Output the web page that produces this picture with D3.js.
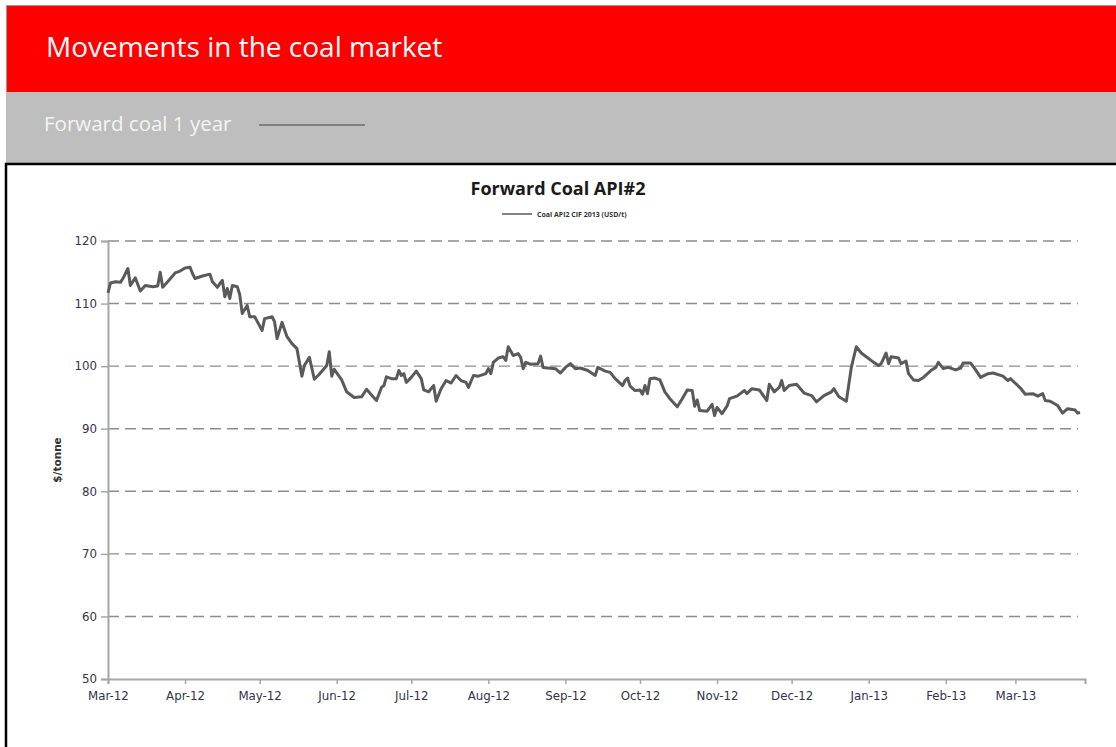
<!DOCTYPE html>
<html>
<head>
<meta charset="utf-8">
<script src="https://cdn.jsdelivr.net/npm/d3@7"></script>
<style>
  body { margin: 0; background: #fff; }
  svg { display: block; }
</style>
</head>
<body>
<div id="chart-container"></div>
<script>
// forward coal API#2
var dates = [
  "2012-03-01","2012-03-02","2012-03-04","2012-03-06","2012-03-07","2012-03-09","2012-03-10","2012-03-11",
  "2012-03-12","2012-03-14","2012-03-16","2012-03-19","2012-03-21","2012-03-22","2012-03-23","2012-03-25",
  "2012-03-28","2012-03-30","2012-04-01","2012-04-03","2012-04-04","2012-04-05","2012-04-08","2012-04-11",
  "2012-04-12","2012-04-14","2012-04-15","2012-04-16","2012-04-17","2012-04-18","2012-04-19","2012-04-20",
  "2012-04-22","2012-04-23","2012-04-24","2012-04-26","2012-04-27","2012-04-29","2012-05-02","2012-05-03",
  "2012-05-06","2012-05-07","2012-05-08","2012-05-10","2012-05-12","2012-05-14","2012-05-16","2012-05-18",
  "2012-05-19","2012-05-21","2012-05-23","2012-05-25","2012-05-28","2012-05-29","2012-05-30","2012-05-31",
  "2012-06-03","2012-06-05","2012-06-08","2012-06-11","2012-06-13","2012-06-15","2012-06-17","2012-06-19",
  "2012-06-20","2012-06-21","2012-06-23","2012-06-25","2012-06-26","2012-06-27","2012-06-28","2012-06-29",
  "2012-07-01","2012-07-03","2012-07-05","2012-07-06","2012-07-08","2012-07-10","2012-07-11","2012-07-13",
  "2012-07-15","2012-07-17","2012-07-19","2012-07-21","2012-07-23","2012-07-24","2012-07-26","2012-07-28",
  "2012-07-31","2012-08-01","2012-08-02","2012-08-03","2012-08-05","2012-08-07","2012-08-08","2012-08-09",
  "2012-08-11","2012-08-13","2012-08-14","2012-08-15","2012-08-16","2012-08-18","2012-08-21","2012-08-22",
  "2012-08-23","2012-08-25","2012-08-28","2012-08-30","2012-09-01","2012-09-03","2012-09-05","2012-09-07",
  "2012-09-10","2012-09-13","2012-09-14","2012-09-17","2012-09-19","2012-09-21","2012-09-24","2012-09-25",
  "2012-09-26","2012-09-27","2012-09-29","2012-10-01","2012-10-02","2012-10-03","2012-10-04","2012-10-05",
  "2012-10-07","2012-10-09","2012-10-11","2012-10-13","2012-10-16","2012-10-18","2012-10-20","2012-10-22",
  "2012-10-23","2012-10-24","2012-10-25","2012-10-28","2012-10-30","2012-10-31","2012-11-01","2012-11-03",
  "2012-11-05","2012-11-06","2012-11-09","2012-11-12","2012-11-13","2012-11-15","2012-11-18","2012-11-21",
  "2012-11-22","2012-11-24","2012-11-26","2012-11-27","2012-11-28","2012-11-30","2012-12-03","2012-12-06",
  "2012-12-09","2012-12-11","2012-12-14","2012-12-17","2012-12-18","2012-12-20","2012-12-23","2012-12-25",
  "2012-12-27","2012-12-29","2012-12-31","2013-01-03","2013-01-05","2013-01-06","2013-01-08","2013-01-09",
  "2013-01-10","2013-01-13","2013-01-14","2013-01-16","2013-01-17","2013-01-19","2013-01-21","2013-01-23",
  "2013-01-26","2013-01-28","2013-01-29","2013-01-31","2013-02-02","2013-02-05","2013-02-07","2013-02-08",
  "2013-02-11","2013-02-13","2013-02-15","2013-02-18","2013-02-20","2013-02-24","2013-02-26","2013-02-27",
  "2013-03-03","2013-03-05","2013-03-08","2013-03-10","2013-03-12","2013-03-13","2013-03-15","2013-03-18",
  "2013-03-20","2013-03-22","2013-03-25","2013-03-26","2013-03-27"
];

var prices = [
  111.7, 113.3, 113.5, 113.4, 114.0, 115.6, 112.9, 113.5,
  114.1, 112.0, 112.9, 112.7, 112.8, 115.0, 112.6, 113.5,
  114.9, 115.2, 115.7, 115.8, 114.8, 114.0, 114.4, 114.7,
  113.5, 112.6, 113.2, 113.7, 111.1, 112.4, 110.8, 112.9,
  112.7, 111.4, 108.4, 109.7, 107.9, 107.9, 105.7, 107.6,
  107.9, 107.1, 104.4, 107.0, 104.7, 103.6, 102.8, 98.4,
  100.1, 101.4, 97.9, 98.7, 100.1, 102.3, 98.4, 99.5,
  97.8, 95.9, 95.0, 95.1, 96.3, 95.4, 94.5, 96.6,
  96.9, 98.3, 98.0, 98.0, 99.3, 98.5, 98.8, 97.4,
  98.2, 99.2, 98.0, 96.2, 95.9, 96.9, 94.4, 96.4,
  97.7, 97.3, 98.5, 97.7, 97.4, 96.6, 98.5, 98.4,
  98.8, 99.6, 98.8, 100.6, 101.3, 101.5, 100.9, 103.1,
  101.7, 102.0, 101.4, 99.6, 100.6, 100.3, 100.4, 101.6,
  99.8, 99.7, 99.6, 98.9, 99.8, 100.4, 99.6, 99.7,
  99.3, 98.5, 99.8, 99.2, 99.0, 98.0, 96.9, 97.7,
  98.1, 96.8, 96.1, 96.2, 95.5, 96.9, 95.6, 98.0,
  98.1, 97.8, 95.9, 94.8, 93.5, 94.8, 96.2, 96.1,
  93.6, 94.6, 92.9, 92.8, 93.9, 92.1, 93.4, 92.4,
  93.6, 94.8, 95.2, 96.1, 95.6, 96.4, 96.2, 94.5,
  97.1, 95.9, 96.6, 97.7, 96.1, 96.9, 97.1, 95.7,
  95.3, 94.3, 95.3, 95.9, 96.4, 95.1, 94.4, 99.8,
  103.1, 102.1, 101.5, 100.6, 100.1, 100.4, 102.1, 100.4,
  101.5, 101.3, 100.4, 100.8, 98.8, 97.8, 97.7, 98.2,
  99.3, 99.8, 100.6, 99.6, 99.8, 99.4, 99.7, 100.5,
  100.5, 99.4, 98.2, 98.8, 98.9, 98.4, 97.7, 98.0,
  96.5, 95.5, 95.6, 95.2, 95.6, 94.5, 94.4, 93.7,
  92.5, 93.2, 93.0, 92.5, 92.6
];

var monthTicks = [
  "2012-03-01","2012-04-01","2012-05-01","2012-06-01","2012-07-01","2012-08-01",
  "2012-09-01","2012-10-01","2012-11-01","2012-12-01","2013-01-01","2013-02-01","2013-03-01"
];
var yTicks = [50, 60, 70, 80, 90, 100, 110, 120];

var svgWidth = 1116;
var svgHeight = 747;
var plot = { left: 108, right: 1085, top: 241, bottom: 679 };

var parseDate = d3.timeParse("%Y-%m-%d");
var data = dates.map(function (d, i) {
    return { date: parseDate(d), value: prices[i] };
});

var svg = d3.select("#chart-container").append("svg")
    .attr("width", svgWidth)
    .attr("height", svgHeight);

// header bars
svg.append("rect")
    .attr("x", 6.5).attr("y", 5.5)
    .attr("width", 1112).attr("height", 87)
    .style("fill", "#ff0000")
    .style("stroke", "#9a9a9a")
    .style("stroke-width", 1);

svg.append("text")
    .attr("x", 46).attr("y", 57)
    .style("font-family", "'Open Sans', sans-serif")
    .style("font-size", "28px")
    .style("fill", "#ffffff")
    .text("Movements in the coal market");

svg.append("rect")
    .attr("x", 6).attr("y", 92)
    .attr("width", 1110).attr("height", 71)
    .style("fill", "#bebebe");

svg.append("text")
    .attr("x", 44).attr("y", 131)
    .style("font-family", "'Open Sans', sans-serif")
    .style("font-size", "20.5px")
    .style("fill", "#f4f4f4")
    .text("Forward coal 1 year");

svg.append("line")
    .attr("x1", 259).attr("x2", 365)
    .attr("y1", 125).attr("y2", 125)
    .style("stroke", "#808080")
    .style("stroke-width", 2);

// black frame of the embedded chart
svg.append("path")
    .attr("d", "M6,760 V164 H1120")
    .style("fill", "none")
    .style("stroke", "#000")
    .style("stroke-width", 2.5);

var xScale = d3.scaleTime()
    .domain([parseDate("2012-03-01"), parseDate("2013-03-29")])
    .range([plot.left, plot.right]);

var yScale = d3.scaleLinear()
    .domain([50, 120])
    .range([plot.bottom, plot.top]);

// dashed gridlines
svg.append("g")
    .selectAll("line")
    .data(yTicks.filter(function (d) { return d > 50; }))
    .enter().append("line")
    .attr("x1", plot.left)
    .attr("x2", plot.right - 7)
    .attr("y1", function (d) { return yScale(d); })
    .attr("y2", function (d) { return yScale(d); })
    .style("stroke", "#8c8c8c")
    .style("stroke-width", 1.4)
    .style("stroke-dasharray", "11,6");

// axes
var yAxis = svg.append("g")
    .attr("transform", "translate(" + plot.left + ",0)")
    .call(d3.axisLeft(yScale).tickValues(yTicks).tickSize(7).tickPadding(4));

var xAxis = svg.append("g")
    .attr("transform", "translate(0," + plot.bottom + ")")
    .call(d3.axisBottom(xScale)
        .tickValues(monthTicks.map(parseDate))
        .tickFormat(d3.timeFormat("%b-%y"))
        .tickSize(5).tickPadding(8));

[yAxis, xAxis].forEach(function (ax) {
    ax.select(".domain").style("stroke", "#a6a6a6").style("stroke-width", 2);
    ax.selectAll(".tick line").style("stroke", "#a6a6a6").style("stroke-width", 1.5);
    ax.selectAll("text")
        .style("font-family", "'DejaVu Sans', Verdana, sans-serif")
        .style("font-size", "11.8px")
        .style("fill", "#33334a");
});

// y axis title
svg.append("text")
    .attr("transform", "translate(61,460) rotate(-90)")
    .style("text-anchor", "middle")
    .style("font-family", "'DejaVu Sans', Verdana, sans-serif")
    .style("font-size", "10.5px")
    .style("font-weight", "bold")
    .style("fill", "#333")
    .text("$/tonne");

// chart title and legend
svg.append("text")
    .attr("x", 558).attr("y", 195)
    .style("text-anchor", "middle")
    .style("font-family", "'Open Sans', sans-serif")
    .style("font-size", "18px")
    .style("font-weight", "bold")
    .style("fill", "#1a1a1a")
    .text("Forward Coal API#2");

svg.append("line")
    .attr("x1", 502).attr("x2", 532)
    .attr("y1", 214).attr("y2", 214)
    .style("stroke", "#595959")
    .style("stroke-width", 1.5);

svg.append("text")
    .attr("x", 537).attr("y", 216.5)
    .style("font-family", "'Open Sans', sans-serif")
    .style("font-size", "7px")
    .style("font-weight", "bold")
    .style("fill", "#333")
    .text("Coal API2 CIF 2013 (USD/t)");

// price line
var line = d3.line()
    .x(function (d) { return xScale(d.date); })
    .y(function (d) { return yScale(d.value); });

svg.append("path")
    .datum(data)
    .attr("d", line)
    .style("fill", "none")
    .style("stroke", "#5a5a5a")
    .style("stroke-width", 3)
    .style("stroke-linejoin", "round");
</script>
</body>
</html>
